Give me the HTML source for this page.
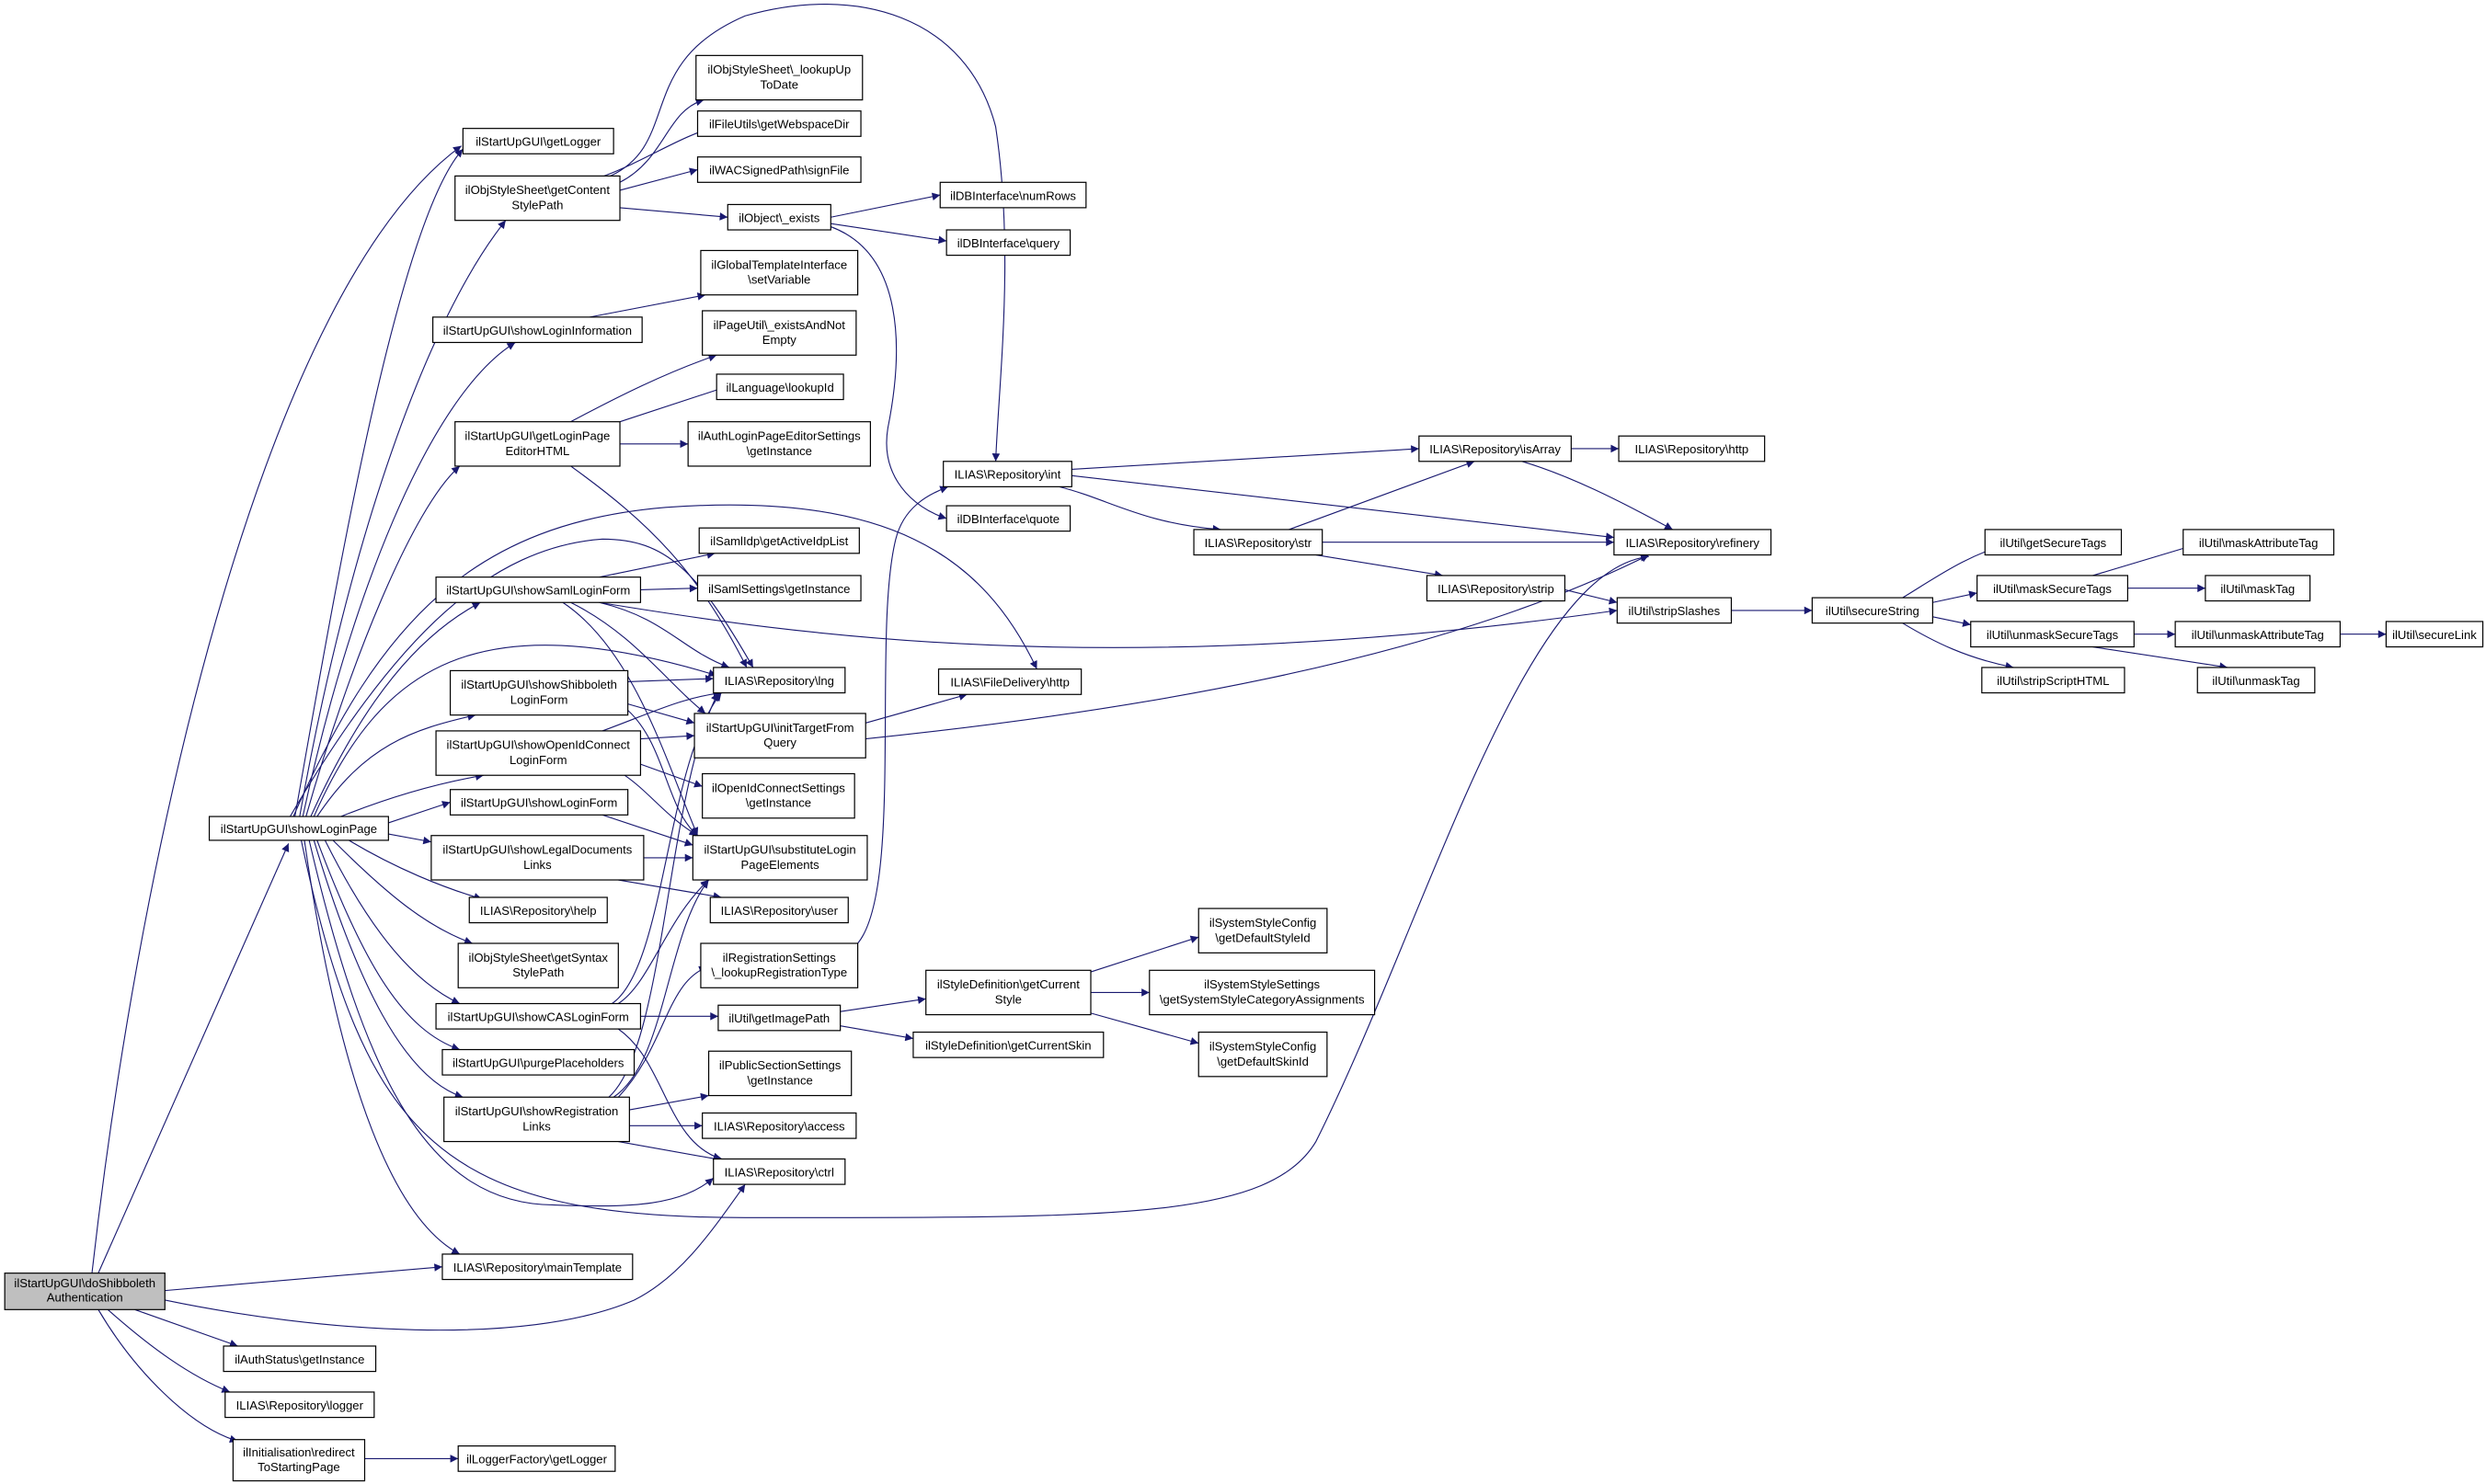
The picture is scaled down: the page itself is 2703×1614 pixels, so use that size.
<!DOCTYPE html>
<html><head><meta charset="utf-8"><style>
html,body{margin:0;padding:0;background:#fff;}
svg{display:block;}
text{font-family:"Liberation Sans",sans-serif;font-size:7.6px;fill:#000;text-anchor:middle;}
.b{fill:#fff;stroke:#000;stroke-width:0.7;}
.e{fill:none;stroke:#191970;stroke-width:0.65;marker-end:url(#a);}
</style></head><body>
<svg width="2703" height="1614" viewBox="0 0 1568 936" preserveAspectRatio="none" xmlns="http://www.w3.org/2000/svg">
<defs><marker id="a" viewBox="0 0 10 10" refX="10" refY="5" markerWidth="7" markerHeight="5" markerUnits="userSpaceOnUse" orient="auto"><path d="M0,0L10,5L0,10z" fill="#191970"/></marker></defs>
<rect width="1568" height="936" fill="#fff"/>
<!-- edges -->
<g>
<path class="e" d="M58,803 C90,520 170,180 291,92"/>
<path class="e" d="M62,803 L182,532"/>
<path class="e" d="M104,814 L279,799"/>
<path class="e" d="M104,820 C200,840 330,850 400,820 C430,805 450,775 470,747"/>
<path class="e" d="M85,826 L150,849"/>
<path class="e" d="M68,826 C95,850 120,868 145,878"/>
<path class="e" d="M62,826 C85,865 120,900 150,909"/>
<path class="e" d="M230,920 L289,920"/>
<!-- showLoginPage -->
<path class="e" d="M186,515 C210,380 250,140 292,94"/>
<path class="e" d="M189,515 C220,340 270,200 319,139"/>
<path class="e" d="M191,515 C220,380 270,250 325,216"/>
<path class="e" d="M193,515 C220,420 260,320 290,294"/>
<path class="e" d="M196,515 C230,440 265,400 303,380"/>
<path class="e" d="M198,515 C240,420 300,380 452,426"/>
<path class="e" d="M200,515 C230,470 260,460 300,451"/>
<path class="e" d="M215,515 C240,505 270,495 305,489"/>
<path class="e" d="M245,519 L284,506"/>
<path class="e" d="M245,526 L272,531"/>
<path class="e" d="M220,530 C250,548 280,560 304,567"/>
<path class="e" d="M210,530 C245,565 270,585 298,595"/>
<path class="e" d="M205,530 C235,590 262,620 290,633"/>
<path class="e" d="M200,530 C230,610 255,650 290,662"/>
<path class="e" d="M198,530 C225,620 255,680 292,692"/>
<path class="e" d="M195,530 C230,680 270,760 350,760 C400,762 430,760 450,743"/>
<path class="e" d="M192,530 C215,690 250,770 290,791"/>
<path class="e" d="M190,530 C230,720 280,768 470,768 C700,768 800,770 830,720 C900,580 960,360 1040,351"/>
<path class="e" d="M185,515 C240,390 300,330 420,320 C560,310 620,350 654,422"/>
<path class="e" d="M183,515 C250,400 310,345 380,340 C420,340 440,360 475,421"/>
<!-- getContentStylePath -->
<path class="e" d="M391,115 C420,100 420,70 444,63"/>
<path class="e" d="M381,111 C410,100 430,85 455,79"/>
<path class="e" d="M391,120 L440,107"/>
<path class="e" d="M391,131 L459,137"/>
<path class="e" d="M385,111 C430,90 400,40 470,10 C540,-10 610,10 628,80 C640,160 630,240 628,291"/>
<path class="e" d="M524,137 L593,123"/>
<path class="e" d="M524,141 L597,152"/>
<path class="e" d="M524,143 C570,160 570,220 560,270 C555,300 575,320 597,327"/>
<!-- showLoginInformation -->
<path class="e" d="M372,200 L445,186"/>
<!-- getLoginPageEditorHTML -->
<path class="e" d="M360,266 C390,250 420,235 452,224"/>
<path class="e" d="M391,266 L458,244"/>
<path class="e" d="M391,280 L434,280"/>
<path class="e" d="M360,294 C410,330 440,360 471,421"/>
<!-- showSaml -->
<path class="e" d="M378,364 L451,349"/>
<path class="e" d="M404,372 L440,371"/>
<path class="e" d="M378,380 C420,390 430,410 460,421"/>
<path class="e" d="M360,380 C400,400 420,430 445,450"/>
<path class="e" d="M355,380 C400,410 420,480 440,527"/>
<path class="e" d="M378,380 C500,400 700,430 1020,385"/>
<!-- showShibboleth -->
<path class="e" d="M396,430 L450,428"/>
<path class="e" d="M396,444 L438,456"/>
<path class="e" d="M396,448 C420,470 420,510 440,527"/>
<!-- showOpenId -->
<path class="e" d="M380,461 C410,450 430,440 455,437"/>
<path class="e" d="M404,466 L438,464"/>
<path class="e" d="M404,482 L443,496"/>
<path class="e" d="M394,489 C410,500 420,515 440,527"/>
<!-- showLoginForm / legal -->
<path class="e" d="M380,514 L437,533"/>
<path class="e" d="M406,541 L437,541"/>
<path class="e" d="M390,555 L455,566"/>
<!-- CAS -->
<path class="e" d="M386,633 C420,610 420,480 455,437"/>
<path class="e" d="M390,633 C410,620 420,580 447,555"/>
<path class="e" d="M404,641 L453,641"/>
<path class="e" d="M390,649 C420,670 420,720 455,731"/>
<!-- registration -->
<path class="e" d="M384,692 C420,660 420,500 453,437"/>
<path class="e" d="M387,692 C420,670 420,590 447,555"/>
<path class="e" d="M390,692 C420,660 420,620 446,610"/>
<path class="e" d="M397,700 L447,691"/>
<path class="e" d="M397,710 L443,710"/>
<path class="e" d="M390,720 L457,732"/>
<!-- initTarget -->
<path class="e" d="M546,456 L610,438"/>
<path class="e" d="M546,466 C700,450 900,420 1040,350"/>
<!-- registrationSettings -> int -->
<path class="e" d="M541,595 C570,560 550,400 565,340 C570,320 585,312 598,307"/>
<!-- getImagePath -->
<path class="e" d="M530,638 L584,630"/>
<path class="e" d="M530,647 L576,655"/>
<path class="e" d="M688,613 L756,591"/>
<path class="e" d="M688,626 L725,626"/>
<path class="e" d="M688,639 L756,658"/>
<!-- int/str/isArray -->
<path class="e" d="M676,296 L895,283"/>
<path class="e" d="M676,300 L1018,339"/>
<path class="e" d="M668,307 C700,315 720,330 770,334"/>
<path class="e" d="M813,334 L930,291"/>
<path class="e" d="M834,342 L1018,342"/>
<path class="e" d="M830,350 L910,363"/>
<path class="e" d="M991,283 L1021,283"/>
<path class="e" d="M960,291 C990,300 1020,315 1055,334"/>
<path class="e" d="M987,372 L1020,380"/>
<path class="e" d="M1092,385 L1143,385"/>
<!-- secureString -->
<path class="e" d="M1200,377 C1220,365 1240,350 1270,342"/>
<path class="e" d="M1219,380 L1247,374"/>
<path class="e" d="M1219,389 L1243,394"/>
<path class="e" d="M1200,393 C1220,405 1240,415 1270,421"/>
<path class="e" d="M1320,363 L1390,342"/>
<path class="e" d="M1342,371 L1391,371"/>
<path class="e" d="M1346,400 L1372,400"/>
<path class="e" d="M1320,408 L1405,421"/>
<path class="e" d="M1476,400 L1505,400"/>
</g>
<!-- nodes -->
<g>
<rect x="3" y="803" width="101" height="23" fill="#bfbfbf" stroke="#000" stroke-width="0.7"/><text x="53.5" y="812">ilStartUpGUI\doShibboleth</text><text x="53.5" y="821">Authentication</text>
<rect class="b" x="132" y="515" width="113" height="15"/><text x="188.5" y="525.5">ilStartUpGUI\showLoginPage</text>
<rect class="b" x="292" y="81" width="95" height="16"/><text x="339.5" y="92">ilStartUpGUI\getLogger</text>
<rect class="b" x="287" y="111" width="104" height="28"/><text x="339" y="122.5">ilObjStyleSheet\getContent</text><text x="339" y="132">StylePath</text>
<rect class="b" x="273" y="200" width="132" height="16"/><text x="339" y="211">ilStartUpGUI\showLoginInformation</text>
<rect class="b" x="287" y="266" width="104" height="28"/><text x="339" y="277.5">ilStartUpGUI\getLoginPage</text><text x="339" y="287">EditorHTML</text>
<rect class="b" x="275" y="364" width="129" height="16"/><text x="339.5" y="375">ilStartUpGUI\showSamlLoginForm</text>
<rect class="b" x="284" y="423" width="112" height="28"/><text x="340" y="434.5">ilStartUpGUI\showShibboleth</text><text x="340" y="444">LoginForm</text>
<rect class="b" x="275" y="461" width="129" height="28"/><text x="339.5" y="472.5">ilStartUpGUI\showOpenIdConnect</text><text x="339.5" y="482">LoginForm</text>
<rect class="b" x="284" y="498" width="112" height="16"/><text x="340" y="509">ilStartUpGUI\showLoginForm</text>
<rect class="b" x="272" y="527" width="134" height="28"/><text x="339" y="538.5">ilStartUpGUI\showLegalDocuments</text><text x="339" y="548">Links</text>
<rect class="b" x="296" y="566" width="87" height="16"/><text x="339.5" y="577">ILIAS\Repository\help</text>
<rect class="b" x="289" y="595" width="101" height="28"/><text x="339.5" y="606.5">ilObjStyleSheet\getSyntax</text><text x="339.5" y="616">StylePath</text>
<rect class="b" x="275" y="633" width="129" height="16"/><text x="339.5" y="644">ilStartUpGUI\showCASLoginForm</text>
<rect class="b" x="279" y="662" width="121" height="16"/><text x="339.5" y="673">ilStartUpGUI\purgePlaceholders</text>
<rect class="b" x="280" y="692" width="117" height="28"/><text x="338.5" y="703.5">ilStartUpGUI\showRegistration</text><text x="338.5" y="713">Links</text>
<rect class="b" x="279" y="791" width="120" height="16"/><text x="339" y="802">ILIAS\Repository\mainTemplate</text>
<rect class="b" x="141" y="849" width="96" height="16"/><text x="189" y="860">ilAuthStatus\getInstance</text>
<rect class="b" x="142" y="878" width="94" height="16"/><text x="189" y="889">ILIAS\Repository\logger</text>
<rect class="b" x="147" y="908" width="83" height="26"/><text x="188.5" y="918.5">ilInitialisation\redirect</text><text x="188.5" y="928">ToStartingPage</text>
<rect class="b" x="289" y="912" width="99" height="16"/><text x="338.5" y="923">ilLoggerFactory\getLogger</text>

<rect class="b" x="439" y="35" width="105" height="28"/><text x="491.5" y="46.5">ilObjStyleSheet\_lookupUp</text><text x="491.5" y="56">ToDate</text>
<rect class="b" x="440" y="70" width="103" height="16"/><text x="491.5" y="81">ilFileUtils\getWebspaceDir</text>
<rect class="b" x="440" y="99" width="103" height="16"/><text x="491.5" y="110">ilWACSignedPath\signFile</text>
<rect class="b" x="459" y="129" width="65" height="16"/><text x="491.5" y="140">ilObject\_exists</text>
<rect class="b" x="442" y="158" width="99" height="28"/><text x="491.5" y="169.5">ilGlobalTemplateInterface</text><text x="491.5" y="179">\setVariable</text>
<rect class="b" x="443" y="196" width="97" height="28"/><text x="491.5" y="207.5">ilPageUtil\_existsAndNot</text><text x="491.5" y="217">Empty</text>
<rect class="b" x="452" y="236" width="80" height="16"/><text x="492" y="247">ilLanguage\lookupId</text>
<rect class="b" x="434" y="266" width="115" height="28"/><text x="491.5" y="277.5">ilAuthLoginPageEditorSettings</text><text x="491.5" y="287">\getInstance</text>
<rect class="b" x="441" y="333" width="101" height="16"/><text x="491.5" y="344">ilSamlIdp\getActiveIdpList</text>
<rect class="b" x="440" y="363" width="103" height="16"/><text x="491.5" y="374">ilSamlSettings\getInstance</text>
<rect class="b" x="450" y="421" width="83" height="16"/><text x="491.5" y="432">ILIAS\Repository\lng</text>
<rect class="b" x="438" y="450" width="108" height="28"/><text x="492" y="461.5">ilStartUpGUI\initTargetFrom</text><text x="492" y="471">Query</text>
<rect class="b" x="443" y="488" width="96" height="28"/><text x="491" y="499.5">ilOpenIdConnectSettings</text><text x="491" y="509">\getInstance</text>
<rect class="b" x="437" y="527" width="110" height="28"/><text x="492" y="538.5">ilStartUpGUI\substituteLogin</text><text x="492" y="548">PageElements</text>
<rect class="b" x="448" y="566" width="87" height="16"/><text x="491.5" y="577">ILIAS\Repository\user</text>
<rect class="b" x="442" y="595" width="99" height="28"/><text x="491.5" y="606.5">ilRegistrationSettings</text><text x="491.5" y="616">\_lookupRegistrationType</text>
<rect class="b" x="453" y="634" width="77" height="16"/><text x="491.5" y="645">ilUtil\getImagePath</text>
<rect class="b" x="447" y="663" width="90" height="28"/><text x="492" y="674.5">ilPublicSectionSettings</text><text x="492" y="684">\getInstance</text>
<rect class="b" x="443" y="702" width="97" height="16"/><text x="491.5" y="713">ILIAS\Repository\access</text>
<rect class="b" x="450" y="731" width="83" height="16"/><text x="491.5" y="742">ILIAS\Repository\ctrl</text>

<rect class="b" x="593" y="115" width="92" height="16"/><text x="639" y="126">ilDBInterface\numRows</text>
<rect class="b" x="597" y="145" width="78" height="16"/><text x="636" y="156">ilDBInterface\query</text>
<rect class="b" x="595" y="291" width="81" height="16"/><text x="635.5" y="302">ILIAS\Repository\int</text>
<rect class="b" x="597" y="319" width="78" height="16"/><text x="636" y="330">ilDBInterface\quote</text>
<rect class="b" x="592" y="422" width="90" height="16"/><text x="637" y="433">ILIAS\FileDelivery\http</text>
<rect class="b" x="584" y="612" width="104" height="28"/><text x="636" y="623.5">ilStyleDefinition\getCurrent</text><text x="636" y="633">Style</text>
<rect class="b" x="576" y="651" width="120" height="16"/><text x="636" y="662">ilStyleDefinition\getCurrentSkin</text>

<rect class="b" x="753" y="334" width="81" height="16"/><text x="793.5" y="345">ILIAS\Repository\str</text>
<rect class="b" x="756" y="573" width="81" height="28"/><text x="796.5" y="584.5">ilSystemStyleConfig</text><text x="796.5" y="594">\getDefaultStyleId</text>
<rect class="b" x="725" y="612" width="142" height="28"/><text x="796" y="623.5">ilSystemStyleSettings</text><text x="796" y="633">\getSystemStyleCategoryAssignments</text>
<rect class="b" x="756" y="651" width="81" height="28"/><text x="796.5" y="662.5">ilSystemStyleConfig</text><text x="796.5" y="672">\getDefaultSkinId</text>

<rect class="b" x="895" y="275" width="96" height="16"/><text x="943" y="286">ILIAS\Repository\isArray</text>
<rect class="b" x="900" y="363" width="87" height="16"/><text x="943.5" y="374">ILIAS\Repository\strip</text>
<rect class="b" x="1021" y="275" width="92" height="16"/><text x="1067" y="286">ILIAS\Repository\http</text>
<rect class="b" x="1018" y="334" width="99" height="16"/><text x="1067.5" y="345">ILIAS\Repository\refinery</text>
<rect class="b" x="1020" y="377" width="72" height="16"/><text x="1056" y="388">ilUtil\stripSlashes</text>
<rect class="b" x="1143" y="377" width="76" height="16"/><text x="1181" y="388">ilUtil\secureString</text>
<rect class="b" x="1252" y="334" width="86" height="16"/><text x="1295" y="345">ilUtil\getSecureTags</text>
<rect class="b" x="1247" y="363" width="95" height="16"/><text x="1294.5" y="374">ilUtil\maskSecureTags</text>
<rect class="b" x="1243" y="392" width="103" height="16"/><text x="1294.5" y="403">ilUtil\unmaskSecureTags</text>
<rect class="b" x="1250" y="421" width="90" height="16"/><text x="1295" y="432">ilUtil\stripScriptHTML</text>
<rect class="b" x="1377" y="334" width="95" height="16"/><text x="1424.5" y="345">ilUtil\maskAttributeTag</text>
<rect class="b" x="1391" y="363" width="66" height="16"/><text x="1424" y="374">ilUtil\maskTag</text>
<rect class="b" x="1372" y="392" width="104" height="16"/><text x="1424" y="403">ilUtil\unmaskAttributeTag</text>
<rect class="b" x="1386" y="421" width="74" height="16"/><text x="1423" y="432">ilUtil\unmaskTag</text>
<rect class="b" x="1505" y="392" width="61" height="16"/><text x="1535.5" y="403">ilUtil\secureLink</text>
</g>
</svg>
</body></html>
